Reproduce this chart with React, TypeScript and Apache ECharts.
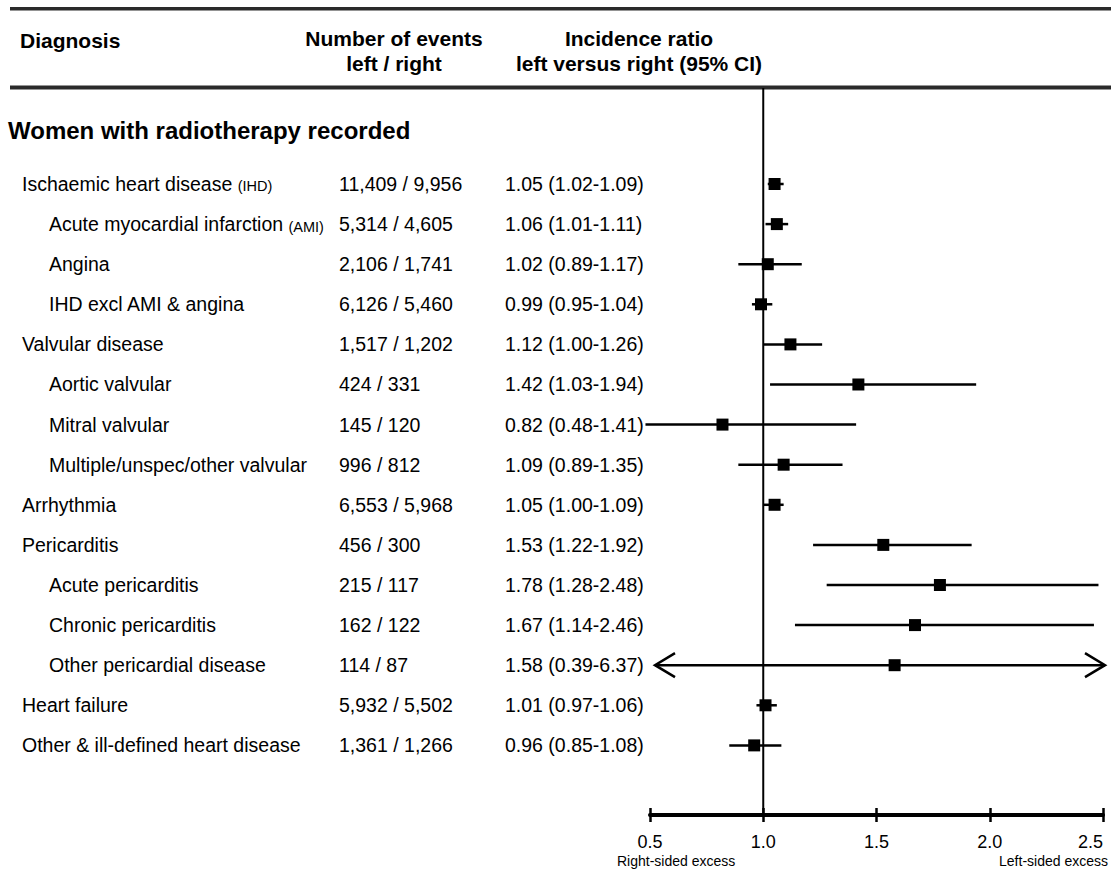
import React, { useEffect, useRef } from "react";
import * as echarts from "echarts";

const FONT = '"Liberation Sans", Arial, Helvetica, sans-serif';

// ---- data ----
const labels = [
  "Ischaemic heart disease",
  "Acute myocardial infarction",
  "Angina",
  "IHD excl AMI & angina",
  "Valvular disease",
  "Aortic valvular",
  "Mitral valvular",
  "Multiple/unspec/other valvular",
  "Arrhythmia",
  "Pericarditis",
  "Acute pericarditis",
  "Chronic pericarditis",
  "Other pericardial disease",
  "Heart failure",
  "Other & ill-defined heart disease",
];
const abbrevs = ["IHD", "AMI", "", "", "", "", "", "", "", "", "", "", "", "", ""];
const levels = [0, 1, 1, 1, 0, 1, 1, 1, 0, 0, 1, 1, 1, 0, 0];
const eventsLeft = [11409, 5314, 2106, 6126, 1517, 424, 145, 996, 6553, 456, 215, 162, 114, 5932, 1361];
const eventsRight = [9956, 4605, 1741, 5460, 1202, 331, 120, 812, 5968, 300, 117, 122, 87, 5502, 1266];
const ratio = [1.05, 1.06, 1.02, 0.99, 1.12, 1.42, 0.82, 1.09, 1.05, 1.53, 1.78, 1.67, 1.58, 1.01, 0.96];
const lower = [1.02, 1.01, 0.89, 0.95, 1.0, 1.03, 0.48, 0.89, 1.0, 1.22, 1.28, 1.14, 0.39, 0.97, 0.85];
const upper = [1.09, 1.11, 1.17, 1.04, 1.26, 1.94, 1.41, 1.35, 1.09, 1.92, 2.48, 2.46, 6.37, 1.06, 1.08];
const xTicks = [0.5, 1.0, 1.5, 2.0, 2.5];

const X_MIN = 0.5;
const X_MAX = 2.5;
const ARROW_LOW = 0.45;
const ARROW_HIGH = 2.55;
const Y_MIN = -2.394;
const Y_MAX = 15.736;

const fmt = (n: number) => n.toLocaleString("en-US");

export default function App() {
  const ref = useRef<HTMLDivElement>(null);

  useEffect(() => {
    if (!ref.current) return;
    const chart = echarts.init(ref.current, null, { renderer: "svg" });

    const option: any = {
      animation: false,
      backgroundColor: "#ffffff",
      grid: { left: 650, right: 8, top: 88, bottom: 61, containLabel: false },
      xAxis: [
        {
          type: "value",
          min: X_MIN,
          max: X_MAX,
          interval: 0.5,
          position: "bottom",
          axisLine: { show: true, onZero: false, lineStyle: { color: "#000", width: 4 } },
          axisTick: { show: true, inside: false, length: 7, lineStyle: { color: "#000", width: 2.5 } },
          axisLabel: {
            show: true,
            margin: 18,
            fontSize: 18,
            fontFamily: FONT,
            color: "#000",
            alignMaxLabel: "right",
            formatter: (v: number) => (xTicks.includes(v) ? v.toFixed(1) : ""),
          },
          splitLine: { show: false },
        },
        {
          type: "value",
          min: X_MIN,
          max: X_MAX,
          interval: 0.5,
          position: "bottom",
          offset: 0,
          axisLine: { show: false, onZero: false },
          axisTick: { show: true, inside: true, length: 7, lineStyle: { color: "#000", width: 2.5 } },
          axisLabel: { show: false },
          splitLine: { show: false },
        },
      ],
      yAxis: {
        type: "value",
        min: Y_MIN,
        max: Y_MAX,
        inverse: true,
        show: false,
        splitLine: { show: false },
      },
      series: [
        {
          type: "line",
          xAxisIndex: 0,
          data: [
            [1, Y_MIN],
            [1, Y_MAX],
          ],
          symbol: "none",
          lineStyle: { color: "#000", width: 2 },
          silent: true,
          z: 1,
        },
        {
          type: "custom",
          xAxisIndex: 0,
          clip: false,
          silent: true,
          z: 3,
          data: ratio.map((r, i) => [r, i, lower[i], upper[i]]),
          encode: { x: 0, y: 1 },
          renderItem: (params: any, api: any) => {
            const est = api.value(0);
            const row = api.value(1);
            const lo = api.value(2);
            const hi = api.value(3);
            const [xe, y] = api.coord([est, row]);
            const leftArrow = lo < ARROW_LOW;
            const rightArrow = hi > ARROW_HIGH;
            const xl = leftArrow ? api.coord([X_MIN, row])[0] + 5 : api.coord([lo, row])[0];
            const xr = rightArrow ? api.coord([X_MAX, row])[0] + 2 : api.coord([hi, row])[0];
            const children: any[] = [
              {
                type: "line",
                shape: { x1: xl, y1: y, x2: xr, y2: y },
                style: { stroke: "#000", lineWidth: 2.5 },
              },
              {
                type: "rect",
                shape: { x: xe - 6, y: y - 6, width: 12, height: 12 },
                style: { fill: "#000" },
              },
            ];
            if (leftArrow) {
              children.push({
                type: "polyline",
                shape: { points: [[xl + 20, y - 12], [xl, y], [xl + 20, y + 12]] },
                style: { stroke: "#000", lineWidth: 2.5, fill: null },
              });
            }
            if (rightArrow) {
              children.push({
                type: "polyline",
                shape: { points: [[xr - 20, y - 12], [xr, y], [xr - 20, y + 12]] },
                style: { stroke: "#000", lineWidth: 2.5, fill: null },
              });
            }
            return { type: "group", children };
          },
        },
        {
          type: "custom",
          xAxisIndex: 0,
          clip: false,
          silent: true,
          z: 2,
          data: labels.map((_, i) => [X_MIN, i]),
          encode: { x: 0, y: 1 },
          renderItem: (params: any, api: any) => {
            const i = params.dataIndex;
            const y = api.coord([X_MIN, i])[1];
            const labelX = levels[i] === 0 ? 22 : 49;
            const ab = abbrevs[i];
            const labelText = ab ? `${labels[i]} {s|(${ab})}` : labels[i];
            const base = {
              fill: "#000",
              fontSize: 19.5,
              fontFamily: FONT,
              verticalAlign: "middle",
              align: "left",
            };
            return {
              type: "group",
              children: [
                {
                  type: "text",
                  style: {
                    ...base,
                    text: labelText,
                    x: labelX,
                    y,
                    rich: {
                      s: { fontSize: 14.5, fontFamily: FONT, fill: "#000", verticalAlign: "bottom", lineHeight: 17 },
                    },
                  },
                },
                {
                  type: "text",
                  style: { ...base, text: `${fmt(eventsLeft[i])} / ${fmt(eventsRight[i])}`, x: 339, y },
                },
                {
                  type: "text",
                  style: {
                    ...base,
                    text: `${ratio[i].toFixed(2)} (${lower[i].toFixed(2)}-${upper[i].toFixed(2)})`,
                    x: 505,
                    y,
                  },
                },
              ],
            };
          },
        },
      ],
      graphic: [
        { type: "rect", left: 10, top: 7, shape: { width: 1101, height: 3.5 }, style: { fill: "#2a2a2a" } },
        { type: "rect", left: 10, top: 85.5, shape: { width: 1101, height: 4 }, style: { fill: "#2a2a2a" } },
        {
          type: "text",
          x: 20,
          y: 40,
          style: { text: "Diagnosis", fill: "#000", font: `bold 21px ${FONT}`, verticalAlign: "middle", align: "left" },
        },
        {
          type: "text",
          x: 394,
          y: 38,
          style: { text: "Number of events", fill: "#000", font: `bold 21px ${FONT}`, verticalAlign: "middle", align: "center" },
        },
        {
          type: "text",
          x: 394,
          y: 63,
          style: { text: "left / right", fill: "#000", font: `bold 21px ${FONT}`, verticalAlign: "middle", align: "center" },
        },
        {
          type: "text",
          x: 639,
          y: 38,
          style: { text: "Incidence ratio", fill: "#000", font: `bold 21px ${FONT}`, verticalAlign: "middle", align: "center" },
        },
        {
          type: "text",
          x: 639,
          y: 63,
          style: {
            text: "left versus right (95% CI)",
            fill: "#000",
            font: `bold 21px ${FONT}`,
            verticalAlign: "middle",
            align: "center",
          },
        },
        {
          type: "text",
          x: 8,
          y: 130,
          style: {
            text: "Women with radiotherapy recorded",
            fill: "#000",
            font: `bold 24px ${FONT}`,
            verticalAlign: "middle",
            align: "left",
          },
        },
        {
          type: "text",
          x: 617,
          y: 861,
          style: { text: "Right-sided excess", fill: "#000", font: `14px ${FONT}`, verticalAlign: "middle", align: "left" },
        },
        {
          type: "text",
          x: 1108,
          y: 861,
          style: { text: "Left-sided excess", fill: "#000", font: `14px ${FONT}`, verticalAlign: "middle", align: "right" },
        },
      ],
    };

    chart.setOption(option);
    return () => chart.dispose();
  }, []);

  return (
    <div
      ref={ref}
      style={{ position: "fixed", left: 0, top: 0, width: 1111, height: 876, background: "#fff" }}
    />
  );
}
